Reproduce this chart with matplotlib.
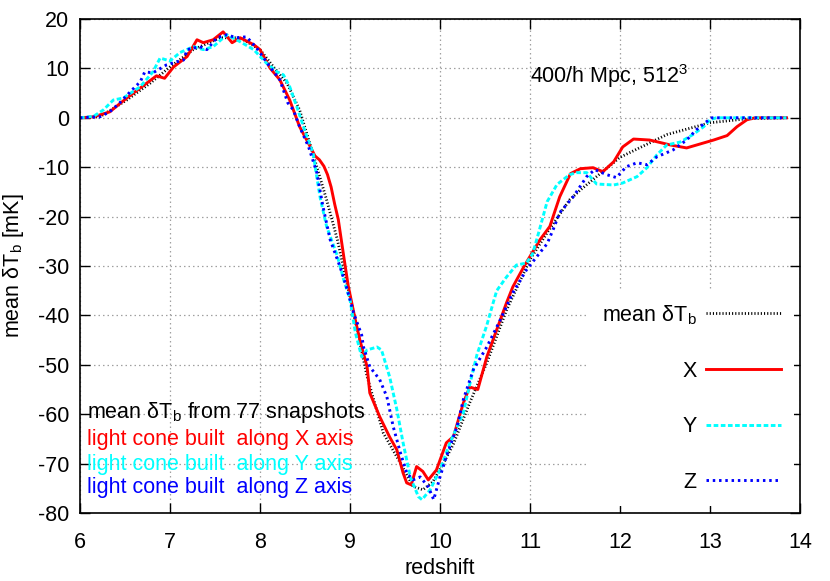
import matplotlib
matplotlib.use("Agg")
import matplotlib.pyplot as plt

plt.rcParams['font.family'] = ['Liberation Sans', 'DejaVu Sans']
plt.rcParams['mathtext.fontset'] = 'custom'
plt.rcParams['mathtext.rm'] = 'Liberation Sans'
plt.rcParams['mathtext.it'] = 'Liberation Sans:italic'
plt.rcParams['axes.unicode_minus'] = False

# ---------------- data ----------------
z_mean = [6.0, 6.22, 6.52, 6.78, 7.0, 7.26, 7.56, 7.78, 8.0, 8.15, 8.3, 8.44, 8.6, 8.74,
          8.86, 8.94, 9.04, 9.19, 9.37, 9.56, 9.70, 9.81, 9.92, 10.05, 10.15, 10.33, 10.52,
          10.74, 11.0, 11.2, 11.44, 11.56, 12.0, 12.52, 13.0, 13.41, 13.85]
T_mean = [0, 0.2, 3.6, 7, 10.3, 13.8, 16.2, 16.2, 13.8, 10.3, 7, 1.6, -8, -16.6,
          -24.7, -31.4, -39.5, -52.4, -63.8, -69.9, -74.6, -75.3, -73.7, -69.5, -66, -57.7, -49.6,
          -38.9, -28.7, -23, -16.6, -14.6, -8, -3.4, -1.0, -0.2, 0]

z_x = [6.0, 6.15, 6.33, 6.52, 6.74, 6.85, 6.94, 7.04, 7.19, 7.3, 7.37, 7.48, 7.59, 7.69, 7.78,
       7.93, 8.0, 8.11, 8.22, 8.33, 8.44, 8.56, 8.61, 8.66, 8.71, 8.75, 8.79, 8.83, 8.87, 8.93,
       8.98, 9.06, 9.11, 9.19, 9.22, 9.33, 9.44, 9.52, 9.59, 9.63, 9.68, 9.74, 9.81, 9.87, 9.96,
       10.07, 10.15, 10.26, 10.33, 10.42, 10.52, 10.63, 10.74, 10.81, 10.93, 11.11, 11.22, 11.33,
       11.45, 11.56, 11.7, 11.81, 11.93, 12.03, 12.15, 12.33, 12.56, 12.74, 12.89, 13.04, 13.19,
       13.3, 13.41, 13.5, 13.85]
T_x = [0, 0.2, 1.2, 4, 7, 8.5, 8, 10.3, 12.4, 15.8, 15.2, 15.8, 17.4, 15.2, 16.2,
       14.8, 13.8, 10.1, 7.7, 3.6, -1.8, -5.9, -7.7, -8.5, -9.8, -11.5, -14, -17.5, -20.6, -28,
       -34, -41, -45, -50.4, -55.7, -60.5, -64.6, -67.2, -71.9, -73.9, -74.3, -70.6, -71.6, -73.3, -71.3,
       -65.8, -64.5, -57.7, -54.5, -55, -48.4, -42.9, -37.4, -34.2, -30.2, -24.7, -22, -16,
       -11.3, -10.3, -10.1, -10.9, -8.9, -5.9, -4.3, -4.5, -5.5, -6.1, -5.3, -4.5, -3.6,
       -1.8, -0.4, 0, 0]

z_y = [6.0, 6.15, 6.26, 6.37, 6.48, 6.67, 6.81, 6.89, 7.0, 7.11, 7.26, 7.37, 7.48, 7.63, 7.78,
       7.93, 8.07, 8.19, 8.26, 8.33, 8.41, 8.52, 8.59, 8.63, 8.67, 8.74, 8.86, 8.93, 9.0, 9.06,
       9.13, 9.19, 9.3, 9.35, 9.44, 9.52, 9.59, 9.67, 9.76, 9.8, 9.89, 10.0, 10.11, 10.26, 10.33,
       10.41, 10.52, 10.59, 10.63, 10.74, 10.85, 10.96, 11.03, 11.1, 11.19, 11.3, 11.44, 11.52,
       11.63, 11.74, 11.93, 12.03, 12.19, 12.3, 12.41, 12.52, 12.67, 12.81, 12.93, 13.0, 13.07, 13.85]
T_y = [0, 0.3, 1.6, 3.6, 4, 6.3, 9.3, 12.1, 11.5, 13.2, 14.4, 13.8, 14.4, 16.8, 15.4,
       13.8, 11.1, 9.3, 8.7, 6.3, 2.2, -3.8, -7.1, -11.9, -16.3, -22, -28, -32.8, -36.8, -43.5,
       -48.4, -47, -46.4, -47, -52.4, -59, -65.8, -72.7, -76.7, -77.3, -75.3, -71.3, -65.8, -59.7, -54,
       -48, -42, -37.5, -35, -32.2, -29.8, -29.4, -27.5, -23, -17, -13.5, -11.5, -11.1,
       -11.1, -13.4, -13.6, -13.2, -11.9, -10.1, -7.5, -5.5, -4.9, -3.4, -1.8, -0.4, 0, 0]

z_z = [6.0, 6.22, 6.33, 6.44, 6.56, 6.67, 6.72, 6.81, 6.96, 7.07, 7.15, 7.19, 7.33, 7.41, 7.52,
       7.63, 7.74, 7.85, 7.96, 8.11, 8.22, 8.31, 8.37, 8.44, 8.54, 8.63, 8.7, 8.78, 8.89, 8.96,
       9.04, 9.13, 9.15, 9.22, 9.33, 9.41, 9.48, 9.56, 9.63, 9.7, 9.78, 9.87, 9.93, 10.0, 10.07,
       10.19, 10.26, 10.37, 10.52, 10.67, 10.81, 10.96, 11.11, 11.19, 11.26, 11.33, 11.48, 11.63,
       11.72, 11.85, 11.96, 12.07, 12.19, 12.3, 12.41, 12.59, 12.74, 12.85, 12.96, 13.02, 13.85]
T_z = [0, 0.2, 1.2, 3, 5.3, 7.3, 9.3, 9.1, 10.7, 11.3, 11.7, 13.8, 14.4, 13.8, 16.2,
       16.8, 16.2, 16.4, 14.2, 10.3, 7.7, 3, 1.6, -1.8, -5.9, -11, -18, -24.7, -30.2, -34.2,
       -39.5, -44, -46.4, -50.4, -53, -56.5, -62.5, -67.8, -71.9, -73.3, -72.7, -74.7, -77.3, -72.7, -68.6,
       -62.5, -57, -51, -46.4, -40.9, -35.4, -30.8, -27.3, -25.5, -22.5, -19.2, -16, -11.9,
       -10.5, -11.5, -12.1, -9.9, -9.1, -9.5, -7.9, -6.5, -4.5, -2.4, -0.8, 0, 0]

xticks = [6, 7, 8, 9, 10, 11, 12, 13, 14]
yticks = [-80, -70, -60, -50, -40, -30, -20, -10, 0, 10, 20]

legend_labels = ["mean δT$_\\mathrm{b}$", "X", "Y", "Z"]
note_lines = ["mean δT$_\\mathrm{b}$ from 77 snapshots",
              "light cone built  along X axis",
              "light cone built  along Y axis",
              "light cone built  along Z axis"]
note_colors = ["black", "#ff0000", "#00ffff", "#0000ff"]

FS = 15.5

# ---------------- figure ----------------
fig = plt.figure(figsize=(8.3, 5.81), dpi=100)
ax = fig.add_axes([80/830, 1-513/581, 720/830, 494/581])

l_mean, = ax.plot(z_mean, T_mean, color='black', lw=2.0, linestyle=(0, (0.4, 0.75)))
l_x, = ax.plot(z_x, T_x, color='#ff0000', lw=2.1, linestyle='-')
l_y, = ax.plot(z_y, T_y, color='#00ffff', lw=2.1, linestyle=(0, (1.6, 0.85)))
l_z, = ax.plot(z_z, T_z, color='#0000ff', lw=2.1, linestyle=(0, (0.85, 1.3)))

ax.set_xlim(6, 14)
ax.set_ylim(-80, 20)
ax.set_xticks(xticks)
ax.set_yticks(yticks)
ax.tick_params(direction='in', top=True, right=True, length=7, width=1,
               labelsize=FS)
ax.tick_params(axis='x', pad=14)
ax.tick_params(axis='y', pad=8)
ax.grid(True, color='#a0a0a0', linestyle=(0, (1.2, 2.4)), lw=0.9)
for s in ax.spines.values():
    s.set_linewidth(1.2)
ax.set_xlabel("redshift", fontsize=FS, labelpad=3)
ax.set_ylabel("mean δT$_\\mathrm{b}$ [mK]", fontsize=FS, labelpad=8)

ax.text(11.0, 7.0, "400/h Mpc, 512$^3$", fontsize=FS, ha='left', va='baseline')

note_y = [-59.7, -65.2, -70.2, -74.9]
for txt, c, yy in zip(note_lines, note_colors, note_y):
    ax.text(6.08, yy, txt, color=c, fontsize=FS, ha='left', va='center')

leg = ax.legend([l_mean, l_x, l_y, l_z], legend_labels, loc='center right',
                bbox_to_anchor=(1.006, 0.233), markerfirst=False, fontsize=FS,
                handlelength=3.45, handletextpad=0.45, labelspacing=1.6,
                frameon=True, fancybox=False, framealpha=1.0, borderpad=0.6)
leg.get_frame().set_edgecolor('none')
leg.get_frame().set_facecolor('white')
for t in leg.get_texts():
    t.set_ha('right')

fig.savefig("out.png", dpi=100)
